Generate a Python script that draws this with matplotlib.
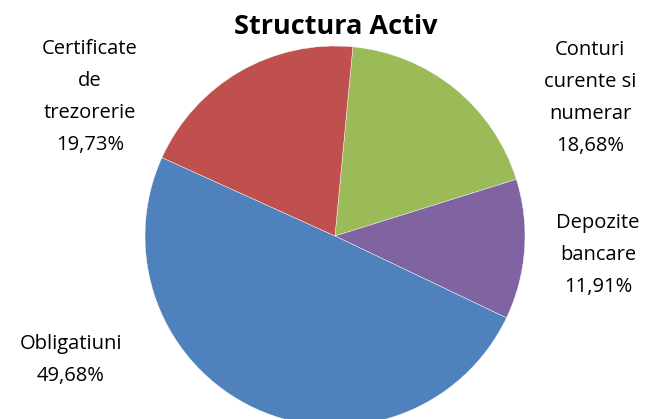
import matplotlib.pyplot as plt

# data (clockwise from the top)
labels = ['Conturi\ncurente si\nnumerar', 'Depozite\nbancare', 'Obligatiuni', 'Certificate\nde\ntrezorerie']
values = [18.68, 11.91, 49.68, 19.73]
colors = ['#9BBB59', '#8064A2', '#4F81BD', '#C0504D']

W, H = 654, 419
fig = plt.figure(figsize=(W / 100, H / 100), dpi=100)
ax = fig.add_axes([0, 0, 1, 1])

# pie in pixel coords, y axis flipped -> counterclock=True draws clockwise on screen
ax.pie(values, colors=colors, center=(335, 236), radius=190,
       startangle=-84.6, counterclock=True, frame=True,
       wedgeprops=dict(linewidth=0.3, edgecolor='white'))
ax.set_xlim(0, W)
ax.set_ylim(H, 0)
ax.axis('off')

label_pos = [(590, 98), (598, 255), (71, 360), (90, 97)]
for lab, v, (x, y) in zip(labels, values, label_pos):
    txt = lab + '\n' + f'{v:.2f}'.replace('.', ',') + '%'
    ax.text(x, y, txt, ha='center', va='center', fontsize=14.5,
            family='Open Sans', linespacing=1.78, color='black')

ax.text(336, 27, 'Structura Activ', ha='center', va='center',
        fontsize=19.5, fontweight='bold', family='Open Sans')

fig.savefig('out.png', dpi=100)
